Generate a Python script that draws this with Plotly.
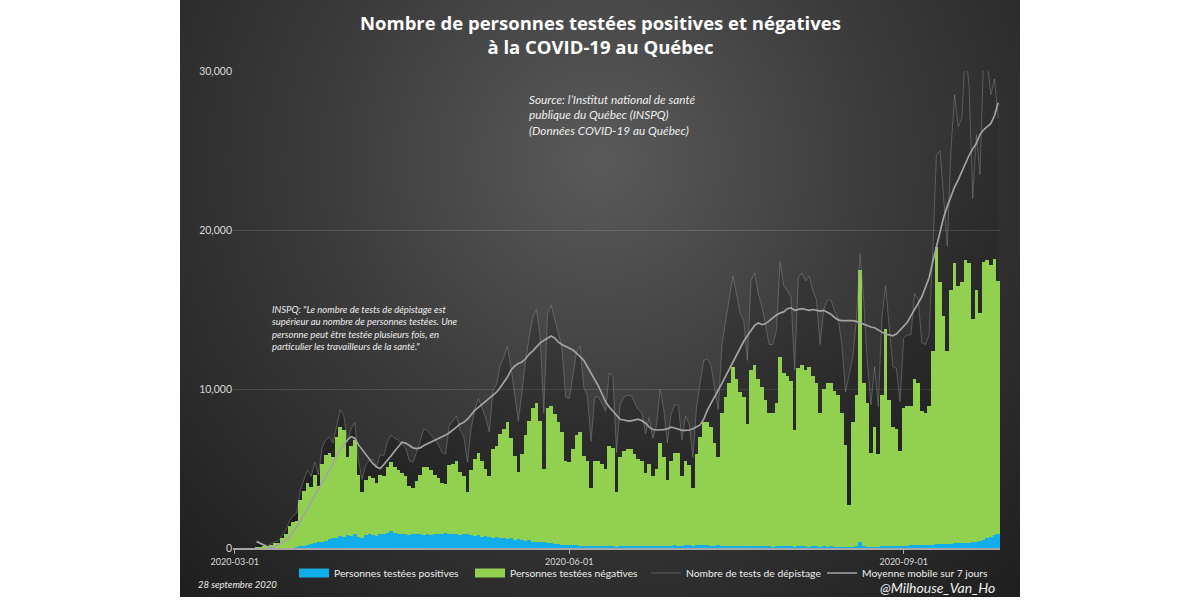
import base64
import pandas as pd
import plotly.graph_objects as go

# ---------------- DATA ----------------
dates = pd.date_range("2020-03-01", "2020-09-27", freq="D")

# total persons tested (top of the stacked bars), one value per day from 2020-03-01
total_tested = [
    0, 0, 0, 0, 0, 0, 30, 40, 80, 150,
    200, 300, 300, 600, 900, 1400, 1650, 1700, 3000, 3600,
    4100, 3850, 4600, 3900, 5300, 5850, 6000, 5700, 7000, 7600,
    7400, 5700, 6400, 6800, 4600, 3500, 4300, 4500, 4400, 4100,
    4600, 4500, 5100, 5400, 5100, 4900, 4700, 4500, 3900, 3800,
    4200, 4600, 5100, 5100, 4900, 4600, 4400, 4100, 4000, 5200,
    5300, 5500, 4800, 4500, 3500, 4900, 5600, 6000, 5500, 5000,
    4500, 6200, 6400, 7200, 7500, 7900, 6900, 5800, 4800, 5900,
    7100, 8000, 8800, 9100, 8000, 5000, 8800, 8900, 8400, 7900,
    7300, 5500, 5400, 6200, 7100, 7300, 5800, 5500, 3800, 5500,
    5500, 5300, 5000, 6400, 6300, 3500, 5700, 6100, 6200, 6200,
    5900, 5600, 5500, 4700, 5300, 4500, 5000, 6600, 5700, 4300,
    5500, 6000, 6000, 4500, 5500, 5200, 3800, 5900, 7000, 7900,
    7900, 7600, 6600, 5700, 8500, 9500, 10400, 11400, 10600, 9800,
    9500, 7800, 11200, 11500, 10600, 10100, 9300, 8500, 8500, 9100,
    12000, 11000, 10800, 10500, 7400, 11300, 11500, 11200, 11400, 10800,
    10400, 8500, 10000, 10400, 10400, 9900, 9600, 8500, 6500, 2700,
    7900, 9600, 17500, 10400, 9100, 5950, 7600, 5900, 9600, 13800,
    9300, 7600, 7500, 6100, 8800, 8900, 8900, 10600, 10400, 8600,
    8500, 8900, 12400, 18900, 16700, 14600, 12400, 16200, 17900, 16500,
    16700, 18100, 17900, 14400, 16200, 14800, 18000, 18100, 17800, 18200,
    16800,
]

positives = [
    0, 0, 0, 0, 0, 0, 0, 0, 0, 0,
    0, 0, 0, 0, 0, 0, 0, 50, 100, 150,
    200, 250, 300, 350, 400, 450, 550, 600, 650, 750,
    700, 800, 750, 850, 700, 650, 800, 850, 800, 750,
    900, 850, 950, 1050, 950, 900, 850, 900, 800, 850,
    900, 850, 800, 850, 800, 900, 850, 900, 950, 900,
    850, 850, 800, 900, 850, 800, 750, 800, 700, 750,
    700, 650, 700, 600, 650, 550, 600, 500, 550, 500,
    450, 500, 400, 400, 350, 350, 300, 300, 280, 250,
    200, 200, 180, 170, 160, 150, 150, 140, 120, 130,
    120, 110, 100, 110, 100, 90, 100, 110, 120, 100,
    110, 130, 120, 110, 130, 120, 140, 150, 130, 120,
    140, 160, 150, 130, 160, 170, 140, 160, 180, 170,
    160, 150, 140, 160, 150, 140, 130, 150, 140, 120,
    130, 110, 130, 120, 110, 100, 110, 100, 90, 100,
    110, 100, 110, 100, 80, 100, 110, 100, 90, 100,
    110, 90, 100, 90, 100, 90, 80, 90, 80, 60,
    90, 150, 400, 150, 80, 70, 90, 80, 100, 110,
    120, 110, 120, 100, 140, 150, 160, 170, 180, 170,
    190, 200, 210, 230, 250, 240, 260, 280, 290, 300,
    310, 330, 340, 350, 400, 450, 500, 600, 700, 800,
    900,
]

daily_tests = [
    None, None, None, None, None, None, 500, 300, 200, 150,
    250, 400, 450, 800, 1100, 1700, 2000, 2200, 3600, 4300,
    4900, 4500, 5400, 4600, 6300, 6800, 7000, 6600, 7600, 8700,
    8300, 6700, 7500, 7900, 5500, 4300, 5200, 5500, 5600, 5100,
    5900, 5800, 6700, 7100, 6900, 6800, 6500, 6300, 5500, 5400,
    6000, 6700, 7500, 7400, 7100, 6800, 6500, 6000, 5900, 7700,
    8000, 8300, 7400, 7000, 5400, 7500, 8700, 9400, 8800, 8200,
    7300, 9900, 10300, 11500, 12000, 12700, 11300, 9500, 8000, 9800,
    11800, 13300, 14500, 15000, 13300, 8500, 14700, 15300, 14400, 13600,
    12600, 9500, 9400, 10800, 12300, 12700, 10100, 9600, 6700, 9500,
    9500, 9100, 8600, 11000, 10800, 6000, 9000, 9500, 9600, 9600,
    9100, 8700, 8500, 7200, 8200, 6900, 7700, 10000, 8700, 6600,
    8400, 9000, 9000, 6800, 8300, 7800, 5700, 8800, 10400, 11800,
    11900, 11500, 10000, 8700, 12800, 14300, 15600, 17100, 16000, 14800,
    14300, 11800, 16800, 17300, 16000, 15200, 14000, 12800, 12800, 13700,
    18000, 16500, 16200, 15800, 11200, 17000, 17300, 16800, 17100, 16200,
    15600, 12800, 15000, 15600, 15600, 14900, 14400, 12800, 9800, 11000,
    12000, 14400, 18500, 15600, 11700, 9000, 11400, 8900, 14400, 16500,
    14000, 11400, 11300, 9200, 13200, 13400, 13400, 16000, 15600, 12900,
    12800, 13400, 18600, 24700, 25000, 22000, 19000, 25000, 28500, 26500,
    27000, 31500, 29000, 22000, 26000, 23500, 31000, 30500, 28500, 29500,
    27000,
]

moving_avg_7d = [
    None, None, None, None, None, None, 400, 300, 150, 80,
    60, 100, 200, 300, 500, 700, 1000, 1300, 1700, 2100,
    2500, 2900, 3300, 3700, 4100, 4500, 4900, 5300, 5800, 6200,
    6500, 6800, 7000, 6900, 6500, 6200, 5900, 5600, 5300, 5100,
    5000, 5250, 5500, 5800, 6100, 6400, 6650, 6600, 6450, 6300,
    6250, 6300, 6450, 6550, 6650, 6750, 6850, 6950, 7100, 7250,
    7400, 7600, 7800, 7900, 8100, 8400, 8650, 8850, 9050, 9250,
    9450, 9650, 9800, 10100, 10450, 10750, 11200, 11450, 11600, 11700,
    11900, 12200, 12400, 12650, 12900, 13050, 13200, 13330, 13200, 12950,
    12800, 12700, 12600, 12450, 12250, 12050, 11800, 11400, 11000, 10600,
    10200, 9700, 9200, 8870, 8600, 8350, 8100, 8050, 8000, 8000,
    8050, 8100, 8000, 7850, 7600, 7450, 7420, 7420, 7450, 7500,
    7600, 7550, 7450, 7400, 7400, 7420, 7500, 7600, 7740, 8100,
    8680, 9100, 9500, 9950, 10350, 10800, 11250, 11700, 12150, 12600,
    13000, 13350, 13700, 14000, 14150, 14050, 14100, 14300, 14500, 14650,
    14780, 14850, 15050, 15100, 14950, 15000, 15050, 15000, 14950, 15000,
    14950, 14900, 14950, 14850, 14700, 14500, 14350, 14300, 14300, 14280,
    14300, 14250, 14150, 14050, 13950, 13900, 13850, 13700, 13550, 13450,
    13400, 13350, 13450, 13700, 14000, 14200, 14600, 15000, 15400, 15800,
    16400, 17000, 18000, 19000, 20000, 20800, 21500, 22100, 22700, 23150,
    23700, 24200, 24700, 25100, 25450, 26000, 26300, 26500, 26700, 27200,
    28000,
]

negatives = [t - p for t, p in zip(total_tested, positives)]

y_ticks = [0, 10000, 20000, 30000]

series_names = [
    "Personnes testées positives",
    "Personnes testées négatives",
    "Nombre de tests de dépistage",
    "Moyenne mobile sur 7 jours",
]

# ---------------- STYLE ----------------
BLUE = "#12AEEA"
GREEN = "#92D050"
TEST_LINE = "rgba(150,150,150,0.42)"
AVG_LINE = "#A4A4A4"
TXT = "#EEEEEE"
FONT = "Lato, 'Open Sans', sans-serif"
TITLE_FONT = "'Open Sans', Lato, sans-serif"

# plot area in pixels
L, R, T, B = 233, 1000, 71, 548
W_PX, H_PX = R - L, B - T


def px_x(x):
    return (x - L) / W_PX


def px_y(y):
    return (B - y) / H_PX


svg = (
    '<svg xmlns="http://www.w3.org/2000/svg" width="840" height="597" '
    'viewBox="0 0 840 597" preserveAspectRatio="none">'
    '<defs><radialGradient id="g" cx="420" cy="160" r="620" '
    'gradientUnits="userSpaceOnUse">'
    '<stop offset="0" stop-color="#5a5a5a"/>'
    '<stop offset="0.45" stop-color="#3b3b3b"/>'
    '<stop offset="1" stop-color="#1d1d1d"/>'
    '</radialGradient></defs>'
    '<rect width="840" height="597" fill="url(#g)"/></svg>'
)
bg_src = "data:image/svg+xml;base64," + base64.b64encode(svg.encode()).decode()

fig = go.Figure()

# shaded area under the number of tests, on the base axes (drawn behind the bars)
fig.add_trace(go.Scatter(
    x=dates, y=daily_tests, mode="none", fill="tozeroy",
    fillgradient=dict(type="vertical",
                      colorscale=[[0, "rgba(0,0,0,0.32)"], [1, "rgba(0,0,0,0.02)"]],
                      start=0, stop=30000),
    showlegend=False, hoverinfo="skip", xaxis="x", yaxis="y",
))

# bars and lines on an overlaying pair of axes, so they sit above the shading
fig.add_trace(go.Bar(x=dates, y=positives, marker=dict(color=BLUE, line=dict(width=0)),
                     name=series_names[0], showlegend=False, xaxis="x2", yaxis="y2"))
fig.add_trace(go.Bar(x=dates, y=negatives, marker=dict(color=GREEN, line=dict(width=0)),
                     name=series_names[1], showlegend=False, xaxis="x2", yaxis="y2"))
fig.add_trace(go.Scatter(x=dates, y=daily_tests, mode="lines",
                         line=dict(color=TEST_LINE, width=1),
                         name=series_names[2], showlegend=False, xaxis="x2", yaxis="y2"))
fig.add_trace(go.Scatter(x=dates, y=moving_avg_7d, mode="lines",
                         line=dict(color=AVG_LINE, width=1.7),
                         name=series_names[3], showlegend=False, xaxis="x2", yaxis="y2"))

# legend entries
legend_styles = [
    dict(color=BLUE, width=9),
    dict(color=GREEN, width=9),
    dict(color="#5e5e5e", width=1),
    dict(color=AVG_LINE, width=1.5),
]
for i, (nm, st) in enumerate(zip(series_names, legend_styles)):
    fig.add_trace(go.Scatter(x=[None], y=[None], mode="lines", line=st, name=nm,
                             showlegend=True, legendrank=i + 1, xaxis="x2", yaxis="y2"))

annotations = [
    dict(text="<b>Nombre de personnes testées positives et négatives<br>à la COVID-19 au Québec</b>",
         x=px_x(600), y=px_y(34), xanchor="center", yanchor="middle",
         font=dict(family=TITLE_FONT, size=18.5, color="#FFFFFF")),
    dict(text="<i>Source: l’Institut national de santé<br>publique du Québec (INSPQ)<br>(Données COVID-19 au Québec)</i>",
         x=px_x(527), y=px_y(90), xanchor="left", yanchor="top", align="left",
         font=dict(family=FONT, size=11.8, color=TXT)),
    dict(text="<i>INSPQ: \"Le nombre de tests de dépistage est<br>supérieur au nombre de personnes testées. Une<br>"
              "personne peut être testée plusieurs fois, en<br>particulier les travailleurs de la santé.\"</i>",
         x=px_x(270), y=px_y(302), xanchor="left", yanchor="top", align="left",
         font=dict(family=FONT, size=9.5, color=TXT)),
    dict(text="<i>28 septembre 2020</i>", x=px_x(196), y=px_y(584), xanchor="left", yanchor="middle",
         font=dict(family=FONT, size=9.5, color=TXT)),
    dict(text="<i>@Milhouse_Van_Ho</i>", x=px_x(997), y=px_y(587), xanchor="right", yanchor="middle",
         font=dict(family=FONT, size=14, color=TXT)),
]
for a in annotations:
    a.update(xref="paper", yref="paper", showarrow=False)

X_RANGE = ["2020-02-29 12:00", "2020-09-27 12:00"]
Y_RANGE = [0, 30000]

fig.update_layout(
    width=1200, height=600,
    margin=dict(l=L, r=1200 - R, t=T, b=600 - B, pad=0, autoexpand=False),
    paper_bgcolor="#FFFFFF", plot_bgcolor="rgba(0,0,0,0)",
    barmode="stack", bargap=0,
    font=dict(family=FONT, color=TXT),
    images=[dict(source=bg_src, xref="paper", yref="paper",
                 x=px_x(180), y=px_y(0), sizex=840 / W_PX, sizey=597 / H_PX,
                 xanchor="left", yanchor="top", sizing="stretch", layer="below")],
    annotations=annotations,
    showlegend=True,
    legend=dict(orientation="h", x=px_x(294), xanchor="left", y=px_y(573), yanchor="middle",
                entrywidth=131, entrywidthmode="pixels", bgcolor="rgba(0,0,0,0)",
                traceorder="normal", font=dict(family=FONT, size=10.3, color=TXT)),
    hovermode="x",
    xaxis=dict(
        type="date", range=X_RANGE,
        tick0="2020-03-01", dtick="M3", tickformat="%Y-%m-%d",
        showgrid=False, showline=True, linecolor="#A6A6A6", linewidth=1.5,
        ticks="outside", ticklen=4, tickcolor="#A6A6A6",
        tickfont=dict(family=FONT, size=9, color="#D9D9D9"),
        zeroline=False,
    ),
    yaxis=dict(
        range=Y_RANGE, tickvals=y_ticks, tickformat=",",
        showgrid=True, gridcolor="rgba(255,255,255,0.13)", gridwidth=1,
        zeroline=False, showline=False, ticks="",
        tickfont=dict(family=FONT, size=10.5, color="#D9D9D9"),
    ),
    xaxis2=dict(type="date", range=X_RANGE, overlaying="x", visible=False),
    yaxis2=dict(range=Y_RANGE, overlaying="y", visible=False),
)

fig.write_html("out.html", config={"displayModeBar": False},
               post_script="document.body.style.margin='0';document.body.style.padding='0';")
